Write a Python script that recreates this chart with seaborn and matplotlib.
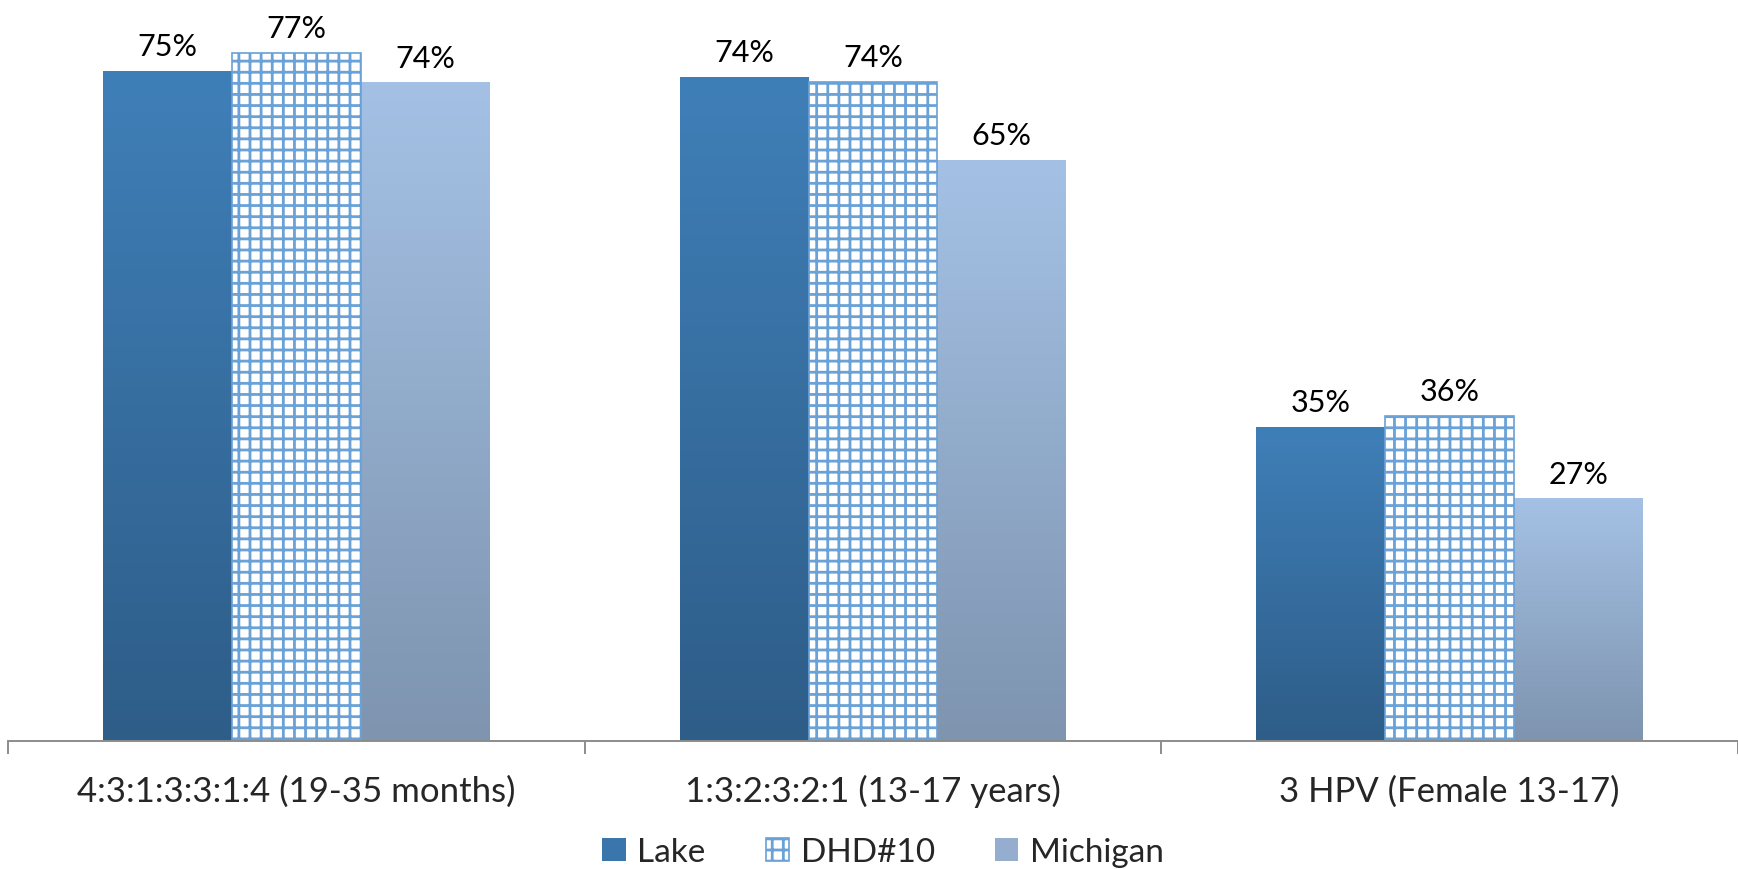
import numpy as np
import pandas as pd
import matplotlib
matplotlib.use("Agg")
import matplotlib.pyplot as plt
from matplotlib.patches import Patch
import seaborn as sns

categories = ["4:3:1:3:3:1:4 (19-35 months)", "1:3:2:3:2:1 (13-17 years)", "3 HPV (Female 13-17)"]
series = ["Lake", "DHD#10", "Michigan"]
lake = [75.0, 74.3, 35.1]
dhd = [77.0, 73.8, 36.4]
michigan = [73.7, 65.0, 27.1]

df = pd.DataFrame({
    "category": categories * 3,
    "series": [s for s in series for _ in categories],
    "value": lake + dhd + michigan,
})

sns.set_theme(style="white")
plt.rcParams["font.family"] = ["Lato", "DejaVu Sans"]
plt.rcParams["hatch.linewidth"] = 1.0

W, H, DPI = 1738, 870, 200
fig = plt.figure(figsize=(W / DPI, H / DPI), dpi=DPI)
ax = fig.add_axes([8 / W, 128 / H, 1 - 8 / W, 1 - 128 / H])

HATCH_C = "#6aa1d6"
sns.barplot(data=df, x="category", y="value", hue="series", order=categories,
            hue_order=series, width=0.67, ax=ax, legend=False,
            palette=["#3a75ab", "white", "#95aed0"], saturation=1)

grads = {
    0: ("#3f7fb8", "#2e5d88"),
    2: ("#a4c1e5", "#7e94af"),
}

def hex2rgb(h):
    h = h.lstrip("#")
    return np.array([int(h[i:i + 2], 16) / 255 for i in (0, 2, 4)])

for ci, cont in enumerate(ax.containers):
    for bar in cont:
        x0, y0 = bar.get_x(), bar.get_y()
        w, h = bar.get_width(), bar.get_height()
        if ci in grads:
            top, bot = hex2rgb(grads[ci][0]), hex2rgb(grads[ci][1])
            t = np.linspace(0, 1, 256)[:, None]
            img = (top[None, :] * (1 - t) + bot[None, :] * t)[:, None, :]
            bar.set_facecolor("none")
            bar.set_edgecolor("none")
            ax.imshow(img, extent=[x0, x0 + w, y0, y0 + h], aspect="auto",
                      origin="upper", zorder=1.5, interpolation="bilinear")
        else:
            bar.set_facecolor("white")
            bar.set_edgecolor(HATCH_C)
            bar.set_hatch("+++")
            bar.set_linewidth(0.6)
            bar.set_zorder(1.6)
    ax.bar_label(cont, labels=[f"{v:.0f}%" for v in cont.datavalues],
                 padding=4, fontsize=11, color="black")

ax.set_xlim(-0.5, -0.5 + (W - 8) / 578.75)
ax.set_ylim(0, 742 / 893 * 100)

ax.set_xlabel("")
ax.set_ylabel("")
ax.set_yticks([])
ax.set_xticks(range(len(categories)))
ax.set_xticklabels(categories, fontsize=12.5)
ax.set_xticks([-0.5, 0.5, 1.5, 2.5], minor=True)
ax.tick_params(axis="x", which="major", length=0, pad=12)
ax.tick_params(axis="x", which="minor", length=4.5, width=0.7, color="#8c8c8c", bottom=True)
for s in ["top", "right", "left"]:
    ax.spines[s].set_visible(False)
ax.spines["bottom"].set_color("#8c8c8c")
ax.spines["bottom"].set_linewidth(0.7)

handles = [
    Patch(facecolor="#3a75ab", edgecolor="none", label="Lake"),
    Patch(facecolor="white", edgecolor=HATCH_C, hatch="+++", linewidth=0.6, label="DHD#10"),
    Patch(facecolor="#95aed0", edgecolor="none", label="Michigan"),
]
fig.legend(handles=handles, loc="center", bbox_to_anchor=(883 / W, 17 / H), ncol=3,
           frameon=False, fontsize=12, handlelength=0.7, handleheight=0.7,
           handletextpad=0.35, columnspacing=1.8, borderaxespad=0)

fig.savefig("out.png", dpi=DPI)
